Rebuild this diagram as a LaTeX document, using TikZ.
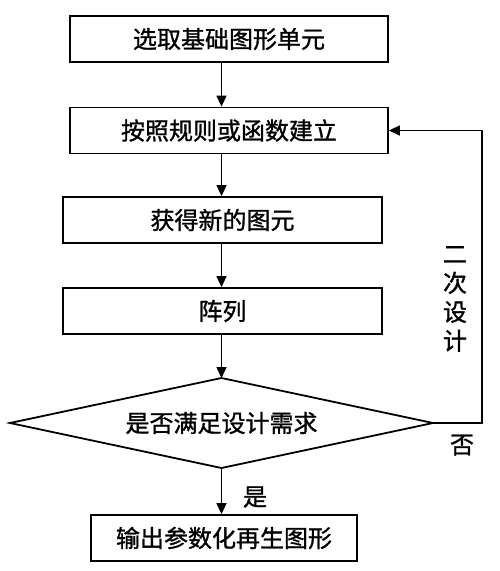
\documentclass[tikz,border=0pt]{standalone}
\usepackage{fontspec}
\newfontfamily\cjk[FakeBold=1.2]{Noto Sans CJK SC}
\usetikzlibrary{arrows.meta}
\begin{document}
\begin{tikzpicture}[x=1pt,y=-1pt,
  every node/.style={font=\cjk\fontsize{24}{29}\selectfont},
  box/.style={draw,line width=1.8pt,rectangle,inner sep=0pt,minimum height=46pt},
  arr/.style={line width=1.6pt,-{Triangle[length=11pt,width=10pt]}}]
\useasboundingbox (0,0) rectangle (500,571);
\node[box,minimum width=318pt] (b1) at (229,39) {选取基础图形单元};
\node[box,minimum width=318pt] (b2) at (229,130.5) {按照规则或函数建立};
\node[box,minimum width=319pt] (b3) at (222.5,220) {获得新的图元};
\node[box,minimum width=319pt] (b4) at (222.5,311) {阵列};
\coordinate (dn) at (221.5,378);
\coordinate (ds) at (221.5,468);
\coordinate (dw) at (10,423);
\coordinate (de) at (433,423);
\draw[line width=1.8pt,line join=miter] (dn) -- (de) -- (ds) -- (dw) -- cycle;
\node (d) at (221.5,423) {是否满足设计需求};
\node[box,minimum width=266pt] (b5) at (224,538) {输出参数化再生图形};
\coordinate (fb) at (482,130.5);
\draw[arr] (b1.south -| dn) -- (b2.north -| dn);
\draw[arr] (b2.south -| dn) -- (b3.north -| dn);
\draw[arr] (b3.south -| dn) -- (b4.north -| dn);
\draw[arr] (b4.south -| dn) -- (dn);
\draw[arr] (ds) -- (b5.north -| ds);
\draw[arr] (de) -| (fb) -- (b2.east);
\node[align=center] (lbl) at (455,299) {二\\次\\设\\计};
\node (no) at (462,445) {否};
\node (yes) at (255,497) {是};
\end{tikzpicture}
\end{document}
